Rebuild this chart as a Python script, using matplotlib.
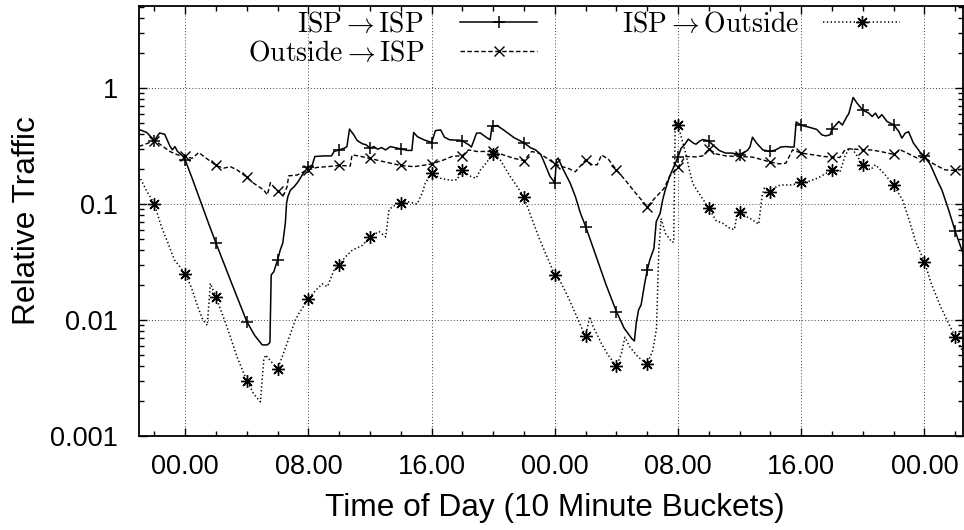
import matplotlib
matplotlib.use('Agg')
import matplotlib.pyplot as plt
from matplotlib.ticker import FixedLocator, NullFormatter, LogLocator

# ---- data: time in 10-minute buckets (0 = first midnight), relative traffic ----
isp_isp_t = [-18, -15, -12, -10, -8, -6, -5, -4, -3, -1,
             0, 3, 6, 9, 12, 15, 18, 21, 24, 27,
             30, 32, 33, 33.5, 34.5, 36, 37, 38, 39, 39.5,
             40, 41, 42.5, 44, 46, 48, 49.5, 50.5, 54, 57,
             58, 60, 62, 63, 64, 65.5, 67, 69, 70.5, 72,
             73.5, 75, 76.5, 78, 80, 82, 84, 86.5, 88.3, 89,
             90.5, 93, 96, 97.5, 99.5, 101, 103, 107, 108, 110.5,
             111.5, 113.5, 115, 117, 118.8, 119.5, 120, 121.5, 124, 128,
             132, 134.5, 136.5, 138.5, 140, 142, 144, 144.6, 145.3, 147,
             150, 152, 154, 156, 159, 161.5, 164, 168, 171, 174,
             175, 175.7, 176.6, 177.6, 179, 180, 181, 182.6, 183.5, 185,
             186, 187, 188.7, 190.7, 192, 193.2, 194.5, 196, 198, 199,
             200.2, 201.6, 204, 205.5, 208, 210.5, 213, 216, 219, 220,
             221, 222.6, 225, 228, 230, 232, 234, 236, 237.2, 238,
             240, 243, 246, 248, 249.5, 251.2, 252, 254.6, 256, 257.8,
             258.5, 260.2, 261.7, 264, 266.3, 267.6, 268.9, 270.1, 271.4, 273.4,
             276, 278, 279.2, 280.5, 281.8, 283.7, 286.4, 288, 290.3, 293.5,
             294.8, 297.4, 300, 303]
isp_isp_v = [0.44, 0.414, 0.353, 0.41, 0.40, 0.318, 0.293, 0.313, 0.284, 0.26,
             0.24, 0.16, 0.105, 0.069, 0.046, 0.031, 0.021, 0.0143, 0.0097, 0.0074,
             0.0061, 0.0061, 0.0064, 0.0245, 0.026, 0.033, 0.040, 0.046, 0.068, 0.102,
             0.116, 0.132, 0.1415, 0.156, 0.1845, 0.208, 0.217, 0.257, 0.26, 0.26,
             0.284, 0.293, 0.303, 0.313, 0.443, 0.40, 0.353, 0.331, 0.324, 0.303,
             0.313, 0.297, 0.307, 0.293, 0.313, 0.305, 0.299, 0.29, 0.29, 0.414,
             0.38, 0.358, 0.339, 0.43, 0.436, 0.377, 0.358, 0.355, 0.35, 0.324,
             0.31, 0.409, 0.41, 0.38, 0.358, 0.467, 0.47, 0.475, 0.436, 0.375,
             0.337, 0.306, 0.293, 0.268, 0.225, 0.175, 0.152, 0.24, 0.249, 0.204,
             0.151, 0.116, 0.083, 0.064, 0.0415, 0.0288, 0.020, 0.0118, 0.0085, 0.0069,
             0.0066, 0.0094, 0.0122, 0.0135, 0.0207, 0.027, 0.033, 0.0415, 0.0706, 0.083,
             0.1086, 0.132, 0.1726, 0.218, 0.255, 0.303, 0.324, 0.363, 0.335, 0.328,
             0.346, 0.36, 0.35, 0.324, 0.29, 0.275, 0.275, 0.267, 0.29, 0.31,
             0.377, 0.335, 0.293, 0.284, 0.293, 0.31, 0.313, 0.31, 0.31, 0.51,
             0.477, 0.46, 0.44, 0.395, 0.387, 0.395, 0.443, 0.515, 0.48, 0.57,
             0.6, 0.83, 0.742, 0.645, 0.608, 0.569, 0.608, 0.55, 0.59, 0.515,
             0.482, 0.422, 0.37, 0.409, 0.42, 0.335, 0.278, 0.26, 0.218, 0.151,
             0.132, 0.089, 0.058, 0.0376]

out_isp_t = [-18, -14.5, -12, -9.5, -6, -3, 0, 2.7, 5.3, 7.3,
             12, 15, 17.6, 20.2, 24, 26.7, 30.6, 32, 33.2, 35,
             36, 38.4, 39.7, 40.3, 43.6, 46.2, 48, 51.4, 55.3, 60,
             64.3, 65, 67.6, 72, 77.3, 84, 89, 94.2, 96, 100.7,
             103.9, 108, 110.4, 113.6, 120, 124, 128, 132, 135, 137.6,
             141, 144, 146.5, 149, 152, 156, 158.5, 160.5, 162.2, 164.8,
             168, 171.5, 175.5, 180, 183.2, 186.5, 188.7, 192, 194.8, 199,
             201.6, 204, 207, 210.6, 216, 221, 225, 228, 231.4, 234,
             236.6, 240, 244.4, 248.9, 252, 255, 257, 259, 264, 267,
             270.8, 276, 278.6, 281.2, 285, 288, 291.5, 296, 300, 303]
out_isp_v = [0.313, 0.335, 0.353, 0.324, 0.284, 0.266, 0.257, 0.248, 0.278, 0.257,
             0.215, 0.204, 0.21, 0.197, 0.17, 0.151, 0.132, 0.12, 0.153, 0.136,
             0.13, 0.12, 0.141, 0.175, 0.178, 0.19, 0.197, 0.207, 0.21, 0.215,
             0.213, 0.265, 0.26, 0.247, 0.232, 0.215, 0.21, 0.218, 0.222, 0.24,
             0.257, 0.262, 0.293, 0.284, 0.284, 0.265, 0.248, 0.237, 0.284, 0.275,
             0.248, 0.222, 0.211, 0.204, 0.19, 0.24, 0.218, 0.218, 0.265, 0.244,
             0.197, 0.16, 0.124, 0.095, 0.114, 0.136, 0.173, 0.208, 0.257, 0.255,
             0.26, 0.297, 0.27, 0.26, 0.257, 0.254, 0.24, 0.23, 0.222, 0.225,
             0.293, 0.275, 0.266, 0.257, 0.254, 0.252, 0.293, 0.3, 0.293, 0.293,
             0.284, 0.268, 0.293, 0.275, 0.25, 0.253, 0.222, 0.197, 0.195, 0.2]

isp_out_t = [-18, -15.2, -12, -9.3, -6.7, -4.2, -2.2, 0, 2.3, 4.9,
             6.9, 8.6, 9.8, 12, 16.3, 20.2, 24, 26.7, 29.3, 30.6,
             31.3, 36, 39.7, 42.9, 44.3, 48, 50.8, 53.4, 55.4, 58,
             60, 62.5, 65.1, 69, 72, 75.5, 78.1, 79.4, 80.7, 84,
             86.5, 90.3, 92.3, 93.5, 96, 99.4, 103.3, 105.9, 108, 110.7,
             113.3, 115, 116.5, 120, 122.7, 126.6, 129, 132, 135, 138,
             141, 144, 146.5, 149.1, 151.7, 154.3, 156, 157.6, 158.9, 162.1,
             164.7, 168, 169.9, 171.3, 173.1, 176.4, 180, 182.2, 183.6, 184.5,
             185.4, 187, 189.6, 190.3, 190.9, 192, 193.2, 195.3, 196.4, 197.7,
             199.5, 204, 206.8, 209.5, 212.5, 214, 215, 216, 218.6, 221,
             223.4, 224.8, 225.6, 228, 230.5, 232.6, 236.5, 240, 243, 246.3,
             248.9, 252, 255.1, 257, 258.3, 260, 264, 266.9, 268.9, 272.1,
             276, 279.5, 282, 284.6, 288, 290.5, 294.3, 297.4, 300, 303]
isp_out_v = [0.176, 0.132, 0.1, 0.064, 0.046, 0.033, 0.029, 0.0249, 0.0194, 0.013,
             0.01, 0.009, 0.0207, 0.0157, 0.0087, 0.0048, 0.003, 0.0023, 0.00197, 0.0045,
             0.005, 0.00377, 0.0063, 0.01, 0.0114, 0.0152, 0.018, 0.0205, 0.0194, 0.027,
             0.03, 0.0352, 0.04, 0.044, 0.052, 0.058, 0.052, 0.089, 0.095, 0.103,
             0.105, 0.1, 0.124, 0.151, 0.1845, 0.167, 0.16, 0.162, 0.197, 0.175,
             0.167, 0.197, 0.215, 0.272, 0.24, 0.173, 0.145, 0.115, 0.075, 0.05,
             0.035, 0.0244, 0.0207, 0.0159, 0.0118, 0.0087, 0.0073, 0.0107, 0.0088, 0.0063,
             0.005, 0.004, 0.0051, 0.0071, 0.0059, 0.0048, 0.0042, 0.0055, 0.0085, 0.04,
             0.075, 0.056, 0.047, 0.047, 0.533, 0.482, 0.382, 0.257, 0.197, 0.151,
             0.13, 0.092, 0.072, 0.068, 0.061, 0.0606, 0.083, 0.086, 0.078, 0.073,
             0.067, 0.12, 0.137, 0.126, 0.143, 0.146, 0.146, 0.155, 0.157, 0.167,
             0.18, 0.196, 0.19, 0.257, 0.293, 0.297, 0.218, 0.197, 0.218, 0.185,
             0.146, 0.108, 0.073, 0.047, 0.0318, 0.021, 0.013, 0.0093, 0.0072, 0.0053]

series_labels = [r'$\mathrm{ISP} \rightarrow \mathrm{ISP}$',
                 r'$\mathrm{Outside} \rightarrow \mathrm{ISP}$',
                 r'$\mathrm{ISP} \rightarrow \mathrm{Outside}$']

x_tick_pos = [0, 48, 96, 144, 192, 240, 288]
x_tick_labels = ['00.00', '08.00', '16.00', '00.00', '08.00', '16.00', '00.00']
y_tick_pos = [0.001, 0.01, 0.1, 1]
y_tick_labels = ['0.001', '0.01', '0.1', '1']

plt.rcParams['font.family'] = ['Liberation Sans', 'DejaVu Sans']
plt.rcParams['mathtext.fontset'] = 'cm'

W, H = 964, 530
fig = plt.figure(figsize=(W / 100, H / 100), dpi=100)
ax = fig.add_axes([139 / W, 94 / H, 824 / W, 430 / H])


def marks(ts):
    return [i for i, t in enumerate(ts) if t % 12 == 0 and -12 <= t <= 300]


l1, = ax.plot(isp_isp_t, isp_isp_v, color='black', lw=1.1, ls='-',
              marker='+', ms=9, mew=1.1, markevery=marks(isp_isp_t),
              label=series_labels[0])
l2, = ax.plot(out_isp_t, out_isp_v, color='black', lw=1.0, ls=(0, (3.2, 1.8)),
              marker='x', ms=7.5, mew=1.0, markevery=marks(out_isp_t),
              label=series_labels[1])
l3, = ax.plot(isp_out_t, isp_out_v, color='black', lw=1.1, ls=(0, (0.9, 1.6)),
              marker=(8, 2, 0), ms=9, mew=1.0, markevery=marks(isp_out_t),
              label=series_labels[2])

ax.set_yscale('log')
ax.set_xlim(-18, 303)
ax.set_ylim(0.001, 5.1)

ax.xaxis.set_major_locator(FixedLocator(x_tick_pos))
ax.set_xticklabels(x_tick_labels)
ax.xaxis.set_minor_locator(FixedLocator(list(range(-12, 304, 12))))
ax.set_yticks(y_tick_pos)
ax.set_yticklabels(y_tick_labels)
ax.yaxis.set_minor_locator(LogLocator(base=10, subs=range(2, 10)))
ax.yaxis.set_minor_formatter(NullFormatter())

ax.tick_params(which='both', direction='in', top=True, right=True,
               width=1.0, color='black')
ax.tick_params(which='major', length=6, labelsize=19.5)
ax.tick_params(which='minor', length=3.5)
ax.tick_params(axis='x', which='major', pad=13)
ax.tick_params(axis='y', which='major', pad=15)

for s in ax.spines.values():
    s.set_linewidth(1.3)

ax.grid(True, which='major', color='#444444', lw=0.7, ls=(0, (1, 2.2)))

ax.set_xlabel('Time of Day (10 Minute Buckets)', fontsize=22.8, va='center')
ax.xaxis.set_label_coords(0.5 + 4 / 824, -(508 - 436) / 430)
ax.set_ylabel('Relative Traffic', fontsize=22.8, va='center')
ax.yaxis.set_label_coords(-(139 - 27) / 824, 0.5)

leg_kw = dict(loc='upper right', bbox_transform=fig.transFigure, frameon=False,
              markerfirst=False, fontsize=20, handlelength=2.77,
              labelspacing=0.1, borderpad=0.0, borderaxespad=0.0, numpoints=1)
leg1 = ax.legend(handles=[l1, l2], bbox_to_anchor=(537 / W, 1 - 12 / H),
                 handletextpad=1.3, **leg_kw)
ax.add_artist(leg1)
ax.legend(handles=[l3], bbox_to_anchor=(900 / W, 1 - 12 / H),
          handletextpad=0.85, **leg_kw)

fig.savefig('out.png', dpi=100)
